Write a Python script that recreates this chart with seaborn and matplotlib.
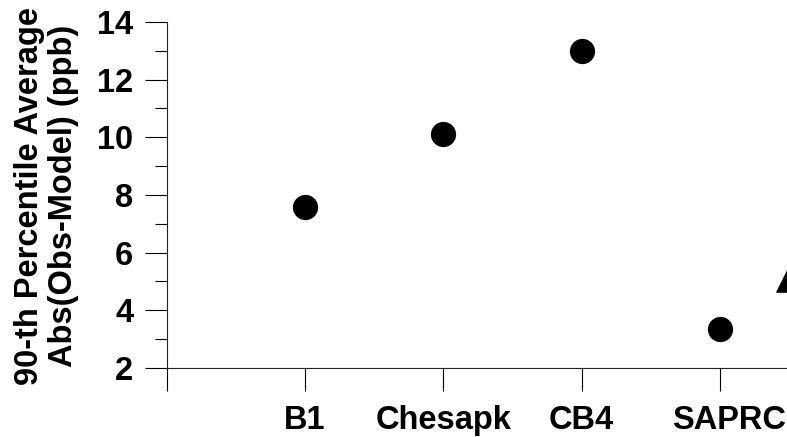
import matplotlib
matplotlib.use("Agg")
import matplotlib.pyplot as plt
import matplotlib.transforms as mtransforms
import seaborn as sns
import pandas as pd
from matplotlib.ticker import MultipleLocator

# data
mechanisms = ['B1', 'Chesapk', 'CB4', 'SAPRC']
abs_err_90 = [7.6, 10.1, 13.0, 3.35]
# second series, only its edge shows at the right border
extra_x = [4.5]
extra_y = [5.1]

df = pd.DataFrame({'pos': range(1, len(mechanisms) + 1), 'val': abs_err_90})

sns.set_style('ticks')
plt.rcParams['font.family'] = ['Liberation Sans', 'DejaVu Sans']
plt.rcParams['font.weight'] = 'bold'
plt.rcParams['text.color'] = 'black'
plt.rcParams['axes.labelcolor'] = 'black'
plt.rcParams['xtick.color'] = 'black'
plt.rcParams['ytick.color'] = 'black'

fs = 23.5

fig = plt.figure(figsize=(7.87, 4.37), dpi=100)
ax = fig.add_axes([0.2118, 0.1579, 0.7882, 0.7918])

sns.scatterplot(data=df, x='pos', y='val', ax=ax, s=330, color='black',
                marker='o', edgecolor='black', linewidth=0, clip_on=False, zorder=3)
ax.scatter(extra_x, extra_y, s=330, marker='^', color='black', clip_on=False, zorder=3)

ax.set_xlim(0, 4.485)
ax.set_ylim(2, 14)
ax.set_xticks(range(0, len(mechanisms) + 1))
ax.set_xticklabels([''] + mechanisms, fontsize=fs, fontweight='bold')
ax.set_yticks(range(2, 15, 2))
ax.set_yticklabels([str(v) for v in range(2, 15, 2)], fontsize=fs, fontweight='bold')
ax.yaxis.set_minor_locator(MultipleLocator(1))

ax.tick_params(axis='x', which='major', direction='out', length=16.5, width=0.8,
               pad=10.5)
ax.tick_params(axis='y', which='major', direction='out', length=16, width=0.8,
               pad=8)
ax.tick_params(axis='y', which='minor', direction='out', length=8.5, width=0.8)

# last label sits a little right of its tick in the original
last = ax.get_xticklabels()[-1]
last.set_transform(last.get_transform() +
                   mtransforms.ScaledTranslation(9 / 100, 0, fig.dpi_scale_trans))

ax.set_xlabel('')
ax.set_ylabel('90-th Percentile Average\nAbs(Obs-Model) (ppb)', fontsize=fs,
              fontweight='bold', linespacing=1.1)
ax.yaxis.set_label_coords(-0.142, 0.496)

for side in ['top', 'right']:
    ax.spines[side].set_visible(False)
for side in ['left', 'bottom']:
    ax.spines[side].set_linewidth(0.8)
    ax.spines[side].set_color('#222222')

plt.savefig('out.png', dpi=100)
